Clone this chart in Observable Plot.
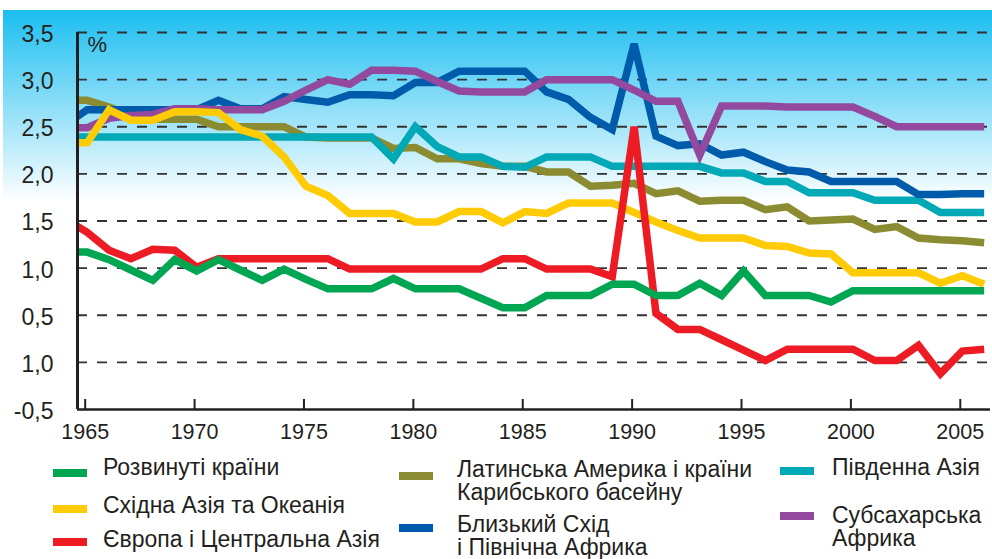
<!DOCTYPE html>
<html><head><meta charset="utf-8">
<script src="https://cdn.jsdelivr.net/npm/d3@7"></script>
<script src="https://cdn.jsdelivr.net/npm/@observablehq/plot@0.6"></script>
<style>
body{margin:0;background:#fff;font-family:"Liberation Sans",Arial,sans-serif;color:#231f20}
#wrap{position:relative;width:992px;height:559px;overflow:hidden}
#bg{position:absolute;left:3px;top:10px;width:989px;height:192px;background:linear-gradient(to bottom,#1bbef0,#ffffff)}
#chart{position:absolute;left:0;top:0}
#legend{position:absolute;left:0;top:450px;width:992px;height:109px}
.sw{position:absolute;width:34px;height:8px}
.lt{position:absolute;font-size:23px;line-height:23px;white-space:pre;color:#231f20}
</style></head>
<body><div id="wrap"><div id="bg"></div><div id="chart"></div><div id="legend"></div></div>
<script>
// ---- data ----
const years = d3.range(1964, 2007);
const seriesNames = [
  "Розвинуті країни",
  "Східна Азія та Океанія",
  "Європа і Центральна Азія",
  "Латинська Америка і країни\nКарибського басейну",
  "Близький Схід\nі Північна Африка",
  "Південна Азія",
  "Субсахарська\nАфрика"
];
const developed = [1.17,1.17,1.09,0.98,0.87,1.09,0.97,1.09,0.98,0.87,0.99,0.88,0.78,0.78,0.78,0.89,0.78,0.78,0.78,0.68,0.58,0.58,0.71,0.71,0.71,0.83,0.83,0.71,0.71,0.84,0.71,0.97,0.71,0.71,0.71,0.64,0.76,0.76,0.76,0.76,0.76,0.76,0.76];
const eastAsia = [2.33,2.33,2.68,2.57,2.57,2.66,2.66,2.65,2.47,2.40,2.18,1.87,1.77,1.58,1.58,1.58,1.49,1.49,1.60,1.60,1.48,1.60,1.58,1.69,1.69,1.69,1.59,1.49,1.40,1.32,1.32,1.32,1.24,1.23,1.16,1.15,0.95,0.95,0.95,0.95,0.84,0.92,0.83];
const europe = [1.52,1.38,1.19,1.10,1.20,1.19,1.01,1.10,1.10,1.10,1.10,1.10,1.10,0.99,0.99,0.99,0.99,0.99,0.99,0.99,1.10,1.10,0.99,0.99,0.99,0.91,2.50,0.52,0.35,0.35,0.24,0.13,0.02,0.14,0.14,0.14,0.14,0.02,0.02,0.18,-0.12,0.12,0.14];
const latinAmerica = [2.78,2.78,2.71,2.62,2.58,2.58,2.58,2.50,2.50,2.50,2.50,2.39,2.38,2.38,2.38,2.27,2.28,2.16,2.16,2.11,2.08,2.08,2.02,2.02,1.87,1.88,1.90,1.79,1.82,1.71,1.72,1.72,1.62,1.65,1.50,1.51,1.52,1.41,1.44,1.32,1.30,1.29,1.27];
const middleEast = [2.52,2.68,2.68,2.68,2.68,2.68,2.68,2.78,2.69,2.69,2.82,2.79,2.76,2.84,2.84,2.83,2.97,2.97,3.09,3.09,3.09,3.09,2.87,2.79,2.60,2.47,3.38,2.40,2.30,2.32,2.20,2.23,2.13,2.04,2.02,1.92,1.92,1.92,1.92,1.78,1.78,1.79,1.79];
const southAsia = [2.39,2.39,2.39,2.39,2.39,2.39,2.39,2.39,2.39,2.39,2.39,2.39,2.39,2.39,2.39,2.16,2.50,2.29,2.18,2.18,2.08,2.07,2.18,2.18,2.18,2.08,2.08,2.08,2.08,2.08,2.01,2.01,1.92,1.92,1.80,1.80,1.80,1.72,1.72,1.72,1.59,1.59,1.59];
const subSahara = [2.49,2.49,2.59,2.62,2.63,2.69,2.69,2.68,2.68,2.68,2.77,2.89,3.00,2.95,3.10,3.10,3.09,2.98,2.88,2.87,2.87,2.87,3.00,3.00,3.00,3.00,2.89,2.77,2.77,2.20,2.72,2.72,2.72,2.71,2.71,2.71,2.71,2.61,2.50,2.50,2.50,2.50,2.50];
const xTicks = [1965,1970,1975,1980,1985,1990,1995,2000,2005];
const yTicks = [-0.5,0,0.5,1,1.5,2,2.5,3,3.5];
const yLabels = ["-0,5","1,0","0,5","1,0","1,5","2,0","2,5","3,0","3,5"];
const unitLabel = ["%"];

// ---- styles ----
const colors = ["#00a651","#ffcb05","#ed1c24","#8b8b32","#005baa","#00a9b5","#92499e"];
const seriesValues = [developed, eastAsia, europe, latinAmerica, middleEast, southAsia, subSahara];
const drawOrder = [3,5,4,6,1,2,0];
const xDomain = [1964.557, 2006.29];

const lineMarks = drawOrder.map(k => Plot.line(years, {
  x: d => d, y: (d, i) => seriesValues[k][i],
  stroke: colors[k], strokeWidth: 7.5, strokeLinejoin: "miter", strokeMiterlimit: 4,
  strokeLinecap: "butt", clip: true
}));

const chart = Plot.plot({
  width: 992, height: 450,
  marginLeft: 77, marginRight: 2, marginTop: 32, marginBottom: 41,
  style: {background: "transparent", fontFamily: "Liberation Sans, Arial, sans-serif", color: "#231f20", overflow: "visible"},
  x: {domain: xDomain},
  y: {domain: [yTicks[0], yTicks[yTicks.length - 1]]},
  marks: [
    Plot.ruleY(yTicks.slice(1), {stroke: "#333", strokeWidth: 1.8, strokeDasharray: "10,10"}),
    ...lineMarks,
    Plot.ruleY([yTicks[0]], {stroke: "#231f20", strokeWidth: 2.5}),
    Plot.ruleX([xDomain[0]], {y1: yTicks[0], y2: yTicks[yTicks.length - 1], stroke: "#231f20", strokeWidth: 3}),
    Plot.axisY({ticks: yTicks, tickSize: 0, tickPadding: 24, fontSize: 23, dy: 2, label: null,
      tickFormat: d => yLabels[yTicks.indexOf(d)]}),
    Plot.axisX({ticks: xTicks, tickSize: -10, tickPadding: 24, fontSize: 21.5, strokeWidth: 2, label: null,
      tickFormat: d => String(d), dx: -2}),
    Plot.text(unitLabel, {frameAnchor: "top-left", dx: 10, dy: 4, fontSize: 22, textAnchor: "start", lineAnchor: "top", fill: "#231f20"})
  ]
});
document.getElementById("chart").appendChild(chart);

// ---- legend (HTML, below the SVG) ----
const legendLayout = [
  {sx: 53, sy: 19, tx: 103, tb: 25},
  {sx: 53, sy: 55, tx: 103, tb: 63},
  {sx: 53, sy: 88, tx: 103, tb: 97},
  {sx: 399, sy: 22, tx: 457, tb: 27},
  {sx: 399, sy: 74, tx: 457, tb: 82},
  {sx: 780, sy: 17, tx: 832, tb: 25},
  {sx: 780, sy: 62, tx: 832, tb: 73}
];
const legend = document.getElementById("legend");
seriesNames.forEach((name, k) => {
  const L = legendLayout[k];
  const sw = document.createElement("div");
  sw.className = "sw";
  sw.style.left = L.sx + "px"; sw.style.top = L.sy + "px"; sw.style.background = colors[k];
  legend.appendChild(sw);
  const t = document.createElement("div");
  t.className = "lt";
  t.textContent = name;
  t.style.left = L.tx + "px";
  t.style.top = (L.tb - 19.5) + "px";
  legend.appendChild(t);
});
</script>
</body></html>
